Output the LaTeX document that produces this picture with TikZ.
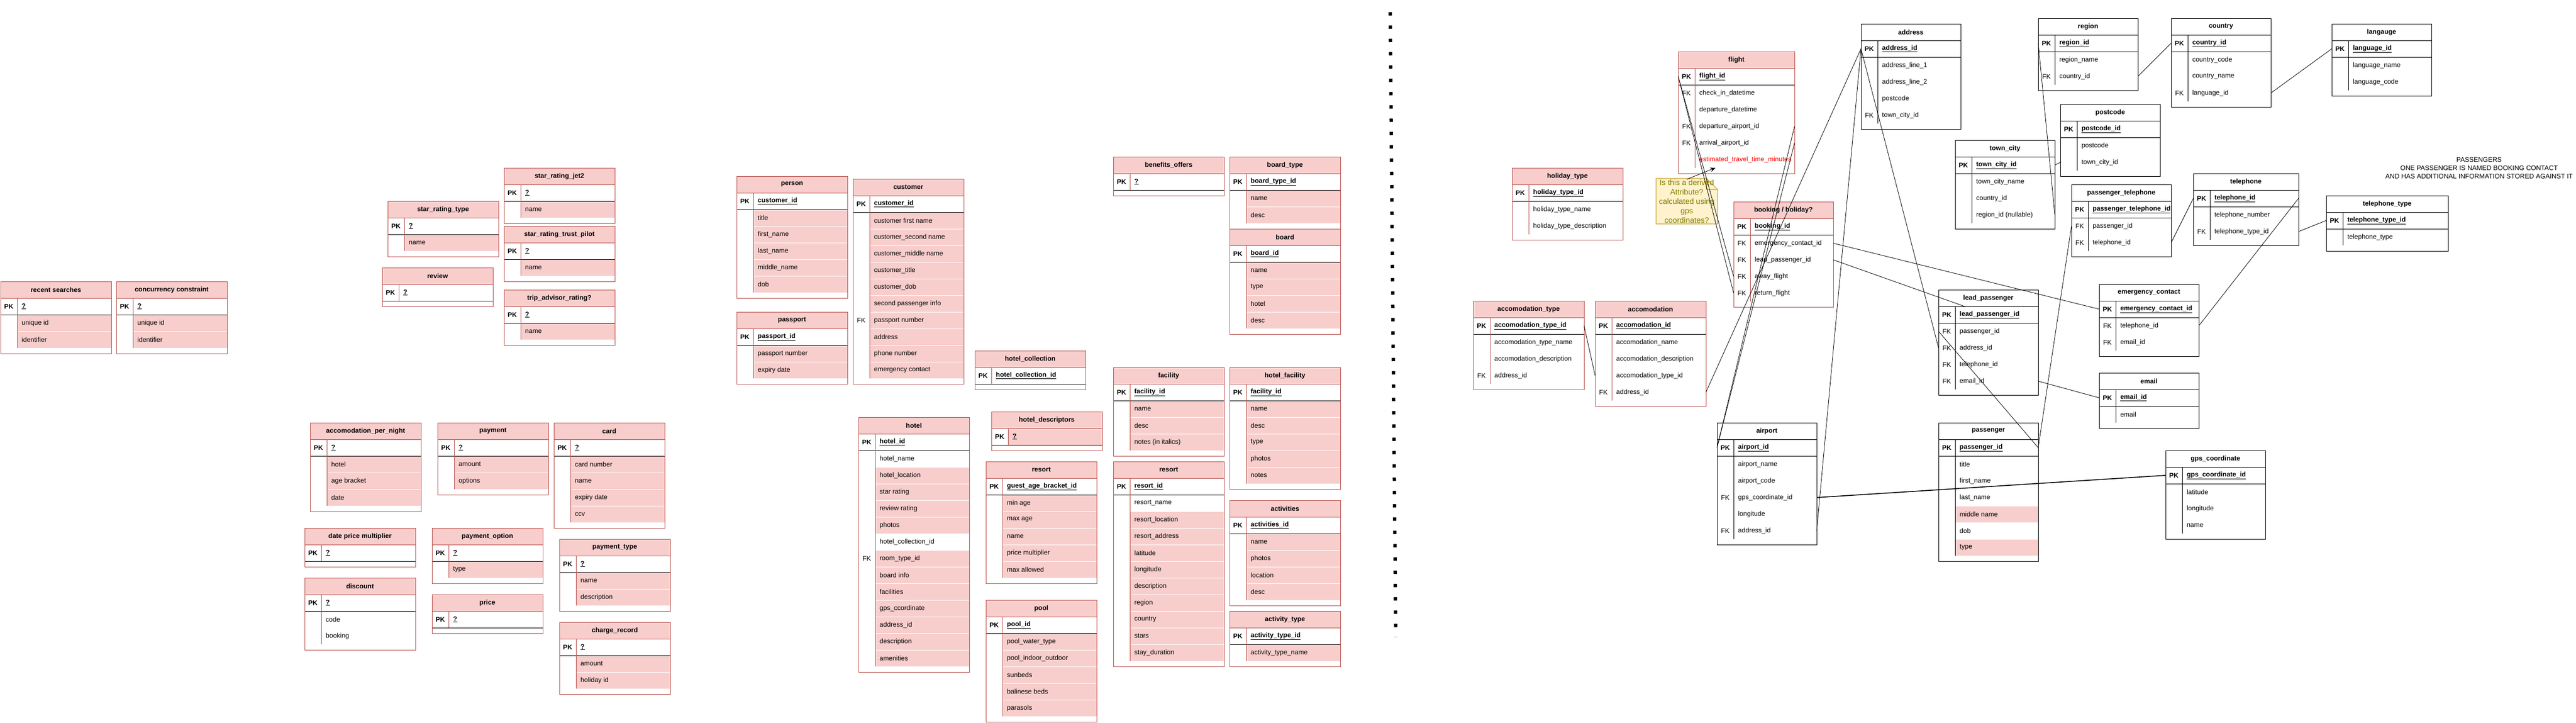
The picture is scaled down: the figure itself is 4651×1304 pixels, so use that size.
\documentclass[tikz,border=0pt]{standalone}
\usepackage{fontspec}
\setmainfont{Liberation Sans}
\usetikzlibrary{arrows.meta}
\definecolor{pinkrow}{HTML}{F8CECC}
\definecolor{redline}{HTML}{B85450}
\definecolor{notefill}{HTML}{FFF2CC}
\definecolor{noteline}{HTML}{D6B656}
\definecolor{notefont}{HTML}{808000}
\newcommand{\erfont}{\fontsize{12}{14}\selectfont}
\newcount\errows
% \ertable{name}{x}{y}{width}{header fill}{border}{title}{pk field}{key/field/fill, ...}
\newcommand{\ertable}[9]{%
  \begin{scope}[shift={(#2,#3)}]
    \fill[#5] (0,0) rectangle (#4,30);
    \node[titletext] at (#4/2,15) {#7};
    \global\errows=0
    \if\relax\detokenize{#9}\relax\else
    \foreach \rk/\rt/\rf in {#9}{%
      \global\advance\errows by 1
      \pgfmathtruncatemacro\rn{\the\errows}
      \pgfmathtruncatemacro\ry{30+30*\the\errows}
      \filldraw[fill=\rf, draw=white, line width=0.6pt] (30,\ry) rectangle (#4,\ry+30);
      \node[keytext] at (15,\ry+15) {\rk};
      \node[fieldtext] at (38,\ry+15) {\rt};
      \coordinate (#1-\rn-w) at (0,\ry+15);
      \coordinate (#1-\rn-e) at (#4,\ry+15);
    }%
    \fi
    \pgfmathtruncatemacro\rb{60+30*\the\errows}
    \pgfmathtruncatemacro\rh{70+30*\the\errows}
    \node[pkkey] at (15,45) {PK};
    \node[pkfield] at (38,45) {\underline{#8}};
    \coordinate (#1-pk-w) at (0,45);
    \coordinate (#1-pk-e) at (#4,45);
    \draw[#6, line width=1pt] (0,30) -- (#4,30);
    \draw[black, line width=1pt] (0,60) -- (#4,60);
    \draw[#6, line width=1pt] (30,30) -- (30,\rb);
    \node[tablebox, draw=#6, minimum width=#4pt, minimum height=\rh pt] (#1) at (0,0) {};
  \end{scope}%
}
\begin{document}
\begin{tikzpicture}[x=1pt, y=-1pt,
    titletext/.style={font=\bfseries\erfont, inner sep=0pt},
    keytext/.style={font=\erfont, inner sep=0pt},
    pkkey/.style={font=\bfseries\erfont, inner sep=0pt},
    fieldtext/.style={anchor=west, font=\erfont, inner sep=0pt},
    pkfield/.style={anchor=west, font=\bfseries\erfont, inner sep=0pt},
    tablebox/.style={rectangle, anchor=north west, inner sep=0pt, line width=1pt},
    link/.style={line width=0.8pt, black},
    separator/.style={line width=6pt, dash pattern=on 6pt off 18pt},
    notebox/.style={fill=notefill, draw=noteline, line width=1.5pt},
    notetext/.style={align=center, text=notefont, inner sep=0pt, font=\fontsize{14}{17}\selectfont},
    remark/.style={align=center, inner sep=0pt, font=\fontsize{12}{15}\selectfont}]
   \path[use as bounding box, fill=white] (0,0) rectangle (4651,1304);

   % left half
   \ertable{recentsearches}{1}{508}{200}{pinkrow}{redline}{recent searches}{?}{{}/unique id/pinkrow, {}/identifier/pinkrow}
   \ertable{concurrency}{210}{508}{200}{pinkrow}{redline}{concurrency constraint}{?}{{}/unique id/pinkrow, {}/identifier/pinkrow}
   \ertable{starratingtype}{700}{363}{200}{pinkrow}{redline}{star\_rating\_type}{?}{{}/name/pinkrow}
   \ertable{review}{690}{483}{200}{pinkrow}{redline}{review}{?}{}
   \ertable{starratingjet}{910}{303}{200}{pinkrow}{redline}{star\_rating\_jet2}{?}{{}/name/pinkrow}
   \ertable{starratingtrust}{910}{408}{200}{pinkrow}{redline}{star\_rating\_trust\_pilot}{?}{{}/name/pinkrow}
   \ertable{tripadvisor}{910}{523}{200}{pinkrow}{redline}{trip\_advisor\_rating?}{?}{{}/name/pinkrow}
   \ertable{accompernight}{560}{763}{200}{pinkrow}{redline}{accomodation\_per\_night}{?}{{}/hotel/pinkrow, {}/age bracket/pinkrow, {}/date/pinkrow}
   \ertable{payment}{790}{763}{200}{pinkrow}{redline}{payment}{?}{{}/amount/pinkrow, {}/options/pinkrow}
   \ertable{card}{1000}{763}{200}{pinkrow}{redline}{card}{?}{{}/card number/pinkrow, {}/name/pinkrow, {}/expiry date/pinkrow, {}/ccv/pinkrow}
   \ertable{datepricemult}{550}{953}{200}{pinkrow}{redline}{date price multiplier}{?}{}
   \ertable{discount}{550}{1043}{200}{pinkrow}{redline}{discount}{?}{{}/code/white, {}/booking/white}
   \ertable{paymentoption}{780}{953}{200}{pinkrow}{redline}{payment\_option}{?}{{}/type/pinkrow}
   \ertable{price}{780}{1073}{200}{pinkrow}{redline}{price}{?}{}
   \ertable{paymenttype}{1010}{973}{200}{pinkrow}{redline}{payment\_type}{?}{{}/name/pinkrow, {}/description/pinkrow}
   \ertable{chargerecord}{1010}{1123}{200}{pinkrow}{redline}{charge\_record}{?}{{}/amount/pinkrow, {}/holiday id/pinkrow}
   \ertable{person}{1330}{318}{200}{pinkrow}{redline}{person}{customer\_id}{{}/title/pinkrow, {}/first\_name/pinkrow, {}/last\_name/pinkrow, {}/middle\_name/pinkrow, {}/dob/pinkrow}
   \ertable{passport}{1330}{563}{200}{pinkrow}{redline}{passport}{passport\_id}{{}/passport number/pinkrow, {}/expiry date/pinkrow}
   \ertable{customer}{1540}{323}{200}{pinkrow}{redline}{customer}{customer\_id}{{}/customer first name/pinkrow, {}/customer\_second name/pinkrow, {}/customer\_middle name/pinkrow, {}/customer\_title/pinkrow, {}/customer\_dob/pinkrow, {}/second passenger info/pinkrow, FK/passport number/pinkrow, {}/address/pinkrow, {}/phone number/pinkrow, {}/emergency contact/pinkrow}
   \ertable{hotelcollection}{1760}{633}{200}{pinkrow}{redline}{hotel\_collection}{hotel\_collection\_id}{}
   \ertable{benefits}{2010}{283}{200}{pinkrow}{redline}{benefits\_offers}{?}{}
   \ertable{boardtype}{2220}{283}{200}{pinkrow}{redline}{board\_type}{board\_type\_id}{{}/name/pinkrow, {}/desc/pinkrow}
   \ertable{board}{2220}{413}{200}{pinkrow}{redline}{board}{board\_id}{{}/name/pinkrow, {}/type/pinkrow, {}/hotel/pinkrow, {}/desc/pinkrow}
   \ertable{facility}{2010}{663}{200}{pinkrow}{redline}{facility}{facility\_id}{{}/name/pinkrow, {}/desc/pinkrow, {}/notes (in italics)/pinkrow}
   \ertable{hotelfacility}{2220}{663}{200}{pinkrow}{redline}{hotel\_facility}{facility\_id}{{}/name/pinkrow, {}/desc/pinkrow, {}/type/pinkrow, {}/photos/pinkrow, {}/notes/pinkrow}
   \ertable{hotel}{1550}{753}{200}{pinkrow}{redline}{hotel}{hotel\_id}{{}/hotel\_name/white, {}/hotel\_location/pinkrow, {}/star rating/pinkrow, {}/review rating/pinkrow, {}/photos/pinkrow, {}/hotel\_collection\_id/white, FK/room\_type\_id/pinkrow, {}/board info/pinkrow, {}/facilities/pinkrow, {}/gps\_ccordinate/pinkrow, {}/address\_id/pinkrow, {}/description/pinkrow, {}/amenities/pinkrow}
   \fill[pinkrow] (1820,773) rectangle (1990,803);
   \ertable{hoteldescriptors}{1790}{743}{200}{pinkrow}{redline}{hotel\_descriptors}{?}{}
   \ertable{guestage}{1780}{833}{200}{pinkrow}{redline}{resort}{guest\_age\_bracket\_id}{{}/min age/pinkrow, {}/max age/pinkrow, {}/name/pinkrow, {}/price multiplier/pinkrow, {}/max allowed/pinkrow}
   \ertable{pool}{1780}{1083}{200}{pinkrow}{redline}{pool}{pool\_id}{{}/pool\_water\_type/pinkrow, {}/pool\_indoor\_outdoor/pinkrow, {}/sunbeds/pinkrow, {}/balinese beds/pinkrow, {}/parasols/pinkrow}
   \ertable{resort}{2010}{833}{200}{pinkrow}{redline}{resort}{resort\_id}{{}/resort\_name/white, {}/resort\_location/pinkrow, {}/resort\_address/pinkrow, {}/latitude/pinkrow, {}/longitude/pinkrow, {}/description/pinkrow, {}/region/pinkrow, {}/country/pinkrow, {}/stars/pinkrow, {}/stay\_duration/pinkrow}
   \ertable{activities}{2220}{903}{200}{pinkrow}{redline}{activities}{activities\_id}{{}/name/pinkrow, {}/photos/pinkrow, {}/location/pinkrow, {}/desc/pinkrow}
   \ertable{activitytype}{2220}{1103}{200}{pinkrow}{redline}{activity\_type}{activity\_type\_id}{{}/activity\_type\_name/pinkrow}

   \draw[separator] (2510,22) -- (2520,1150);

   % right half
   \ertable{flight}{3030}{93}{210}{pinkrow}{redline}{flight}{flight\_id}{FK/check\_in\_datetime/white, {}/departure\_datetime/white, FK/departure\_airport\_id/white, FK/arrival\_airport\_id/white, {}/\textcolor{red}{estimated\_travel\_time\_minutes}/white}
   \ertable{booking}{3130}{364}{180}{pinkrow}{redline}{booking / holiday?}{booking\_id}{FK/emergency\_contact\_id/white, FK/lead\_passenger\_id/white, FK/away\_flight/white, FK/return\_flight/white}
   \ertable{holidaytype}{2730}{303}{200}{pinkrow}{redline}{holiday\_type}{holiday\_type\_id}{{}/holiday\_type\_name/white, {}/holiday\_type\_description/white}
   \ertable{accomodationtype}{2660}{543}{200}{pinkrow}{redline}{accomodation\_type}{accomodation\_type\_id}{{}/accomodation\_type\_name/white, {}/accomodation\_description/white, FK/address\_id/white}
   \ertable{accomodation}{2880}{543}{200}{pinkrow}{redline}{accomodation}{accomodation\_id}{{}/accomodation\_name/white, {}/accomodation\_description/white, {}/accomodation\_type\_id/white, FK/address\_id/white}
   \ertable{address}{3360}{43}{180}{white}{black}{address}{address\_id}{{}/address\_line\_1/white, {}/address\_line\_2/white, {}/postcode/white, FK/town\_city\_id/white}
   \ertable{region}{3680}{33}{180}{white}{black}{region}{region\_id}{{}/region\_name/white, FK/country\_id/white}
   \ertable{country}{3920}{33}{180}{white}{black}{country}{country\_id}{{}/country\_code/white, {}/country\_name/white, FK/language\_id/white}
   \ertable{langauge}{4210}{43}{180}{white}{black}{langauge}{language\_id}{{}/language\_name/white, {}/language\_code/white}
   \ertable{postcode}{3720}{188}{180}{white}{black}{postcode}{postcode\_id}{{}/postcode/white, {}/town\_city\_id/white}
   \ertable{towncity}{3530}{253}{180}{white}{black}{town\_city}{town\_city\_id}{{}/town\_city\_name/white, {}/country\_id/white, {}/region\_id (nullable)/white}
   \ertable{passengertelephone}{3740}{333}{180}{white}{black}{passenger\_telephone}{passenger\_telephone\_id}{FK/passenger\_id/white, FK/telephone\_id/white}
   \ertable{telephone}{3960}{313}{190}{white}{black}{telephone}{telephone\_id}{{}/telephone\_number/white, FK/telephone\_type\_id/white}
   \ertable{telephonetype}{4200}{353}{220}{white}{black}{telephone\_type}{telephone\_type\_id}{{}/telephone\_type/white}
   \ertable{leadpassenger}{3500}{523}{180}{white}{black}{lead\_passenger}{lead\_passenger\_id}{FK/passenger\_id/white, FK/address\_id/white, FK/telephone\_id/white, FK/email\_id/white}
   \ertable{emergency}{3790}{513}{180}{white}{black}{emergency\_contact}{emergency\_contact\_id}{FK/telephone\_id/white, FK/email\_id/white}
   \ertable{email}{3790}{673}{180}{white}{black}{email}{email\_id}{{}/email/white}
   \ertable{airport}{3100}{763}{180}{white}{black}{airport}{airport\_id}{{}/airport\_name/white, {}/airport\_code/white, FK/gps\_coordinate\_id/white, {}/longitude/white, FK/address\_id/white}
   \ertable{passenger}{3500}{763}{180}{white}{black}{passenger}{passenger\_id}{{}/title/white, {}/first\_name/white, {}/last\_name/white, {}/middle name/pinkrow, {}/dob/white, {}/type/pinkrow}
   \ertable{gps}{3910}{813}{180}{white}{black}{gps\_coordinate}{gps\_coordinate\_id}{{}/latitude/white, {}/longitude/white, {}/name/white}

   % note on the travel time
   \filldraw[notebox] (2990,322) -- (3081,322) -- (3101,342) -- (3101,404) -- (2990,404) -- cycle;
   \draw[notebox, fill=none] (3081,322) -- (3081,342) -- (3101,342);
   \node[notetext] (note) at (3045.5,363) {Is this a derived\\Attribute?\\calculated using\\gps\\coordinates?};
   \coordinate (flight-note) at (3097,303);
   \draw[link, -{Stealth[length=9pt, width=8pt]}] (note.north) -- (flight-note);

   \node[remark] (passengers) at (4476,303) {PASSENGERS\\ONE PASSENGER IS NAMED BOOKING CONTACT\\AND HAS ADDITIONAL INFORMATION STORED AGAINST IT};

   % links
   \coordinate (leadpassenger-head) at (3547,553);
   \draw[link] (region-2-e) -- (country-pk-w);
   \draw[link] (country-3-e) -- (langauge-pk-w);
   \draw[link] (postcode-2-w) -- (towncity-pk-e);
   \draw[link] (region-pk-w) -- (towncity-3-e);
   \draw[link] (address-pk-w) -- (leadpassenger-2-w);
   \draw[link] (address-pk-w) -- (airport-5-e);
   \draw[link] (address-pk-w) -- (accomodation-4-e);
   \draw[link] (flight-pk-w) -- (booking-3-w);
   \draw[link] (flight-pk-w) -- (booking-4-w);
   \draw[link] (flight-3-e) -- (airport-pk-w);
   \draw[link] (flight-4-e) -- (airport-pk-w);
   \draw[link] (booking-1-e) -- (emergency-pk-w);
   \draw[link] (booking-2-e) -- (leadpassenger-head);
   \draw[link] (leadpassenger-1-w) -- (passenger-pk-e);
   \draw[link] (passengertelephone-1-w) -- (passenger-pk-e);
   \draw[link] (passengertelephone-2-e) -- (telephone-pk-w);
   \draw[link] (telephone-pk-e) -- (emergency-1-e);
   \draw[link] (telephone-2-e) -- (telephonetype-pk-w);
   \draw[link] (leadpassenger-4-e) -- (email-pk-w);
   \draw[link, line width=1.6pt] (airport-3-e) -- (gps-pk-w);
   \draw[link] (accomodationtype-pk-e) -- (accomodation-3-w);
\end{tikzpicture}
\end{document}
